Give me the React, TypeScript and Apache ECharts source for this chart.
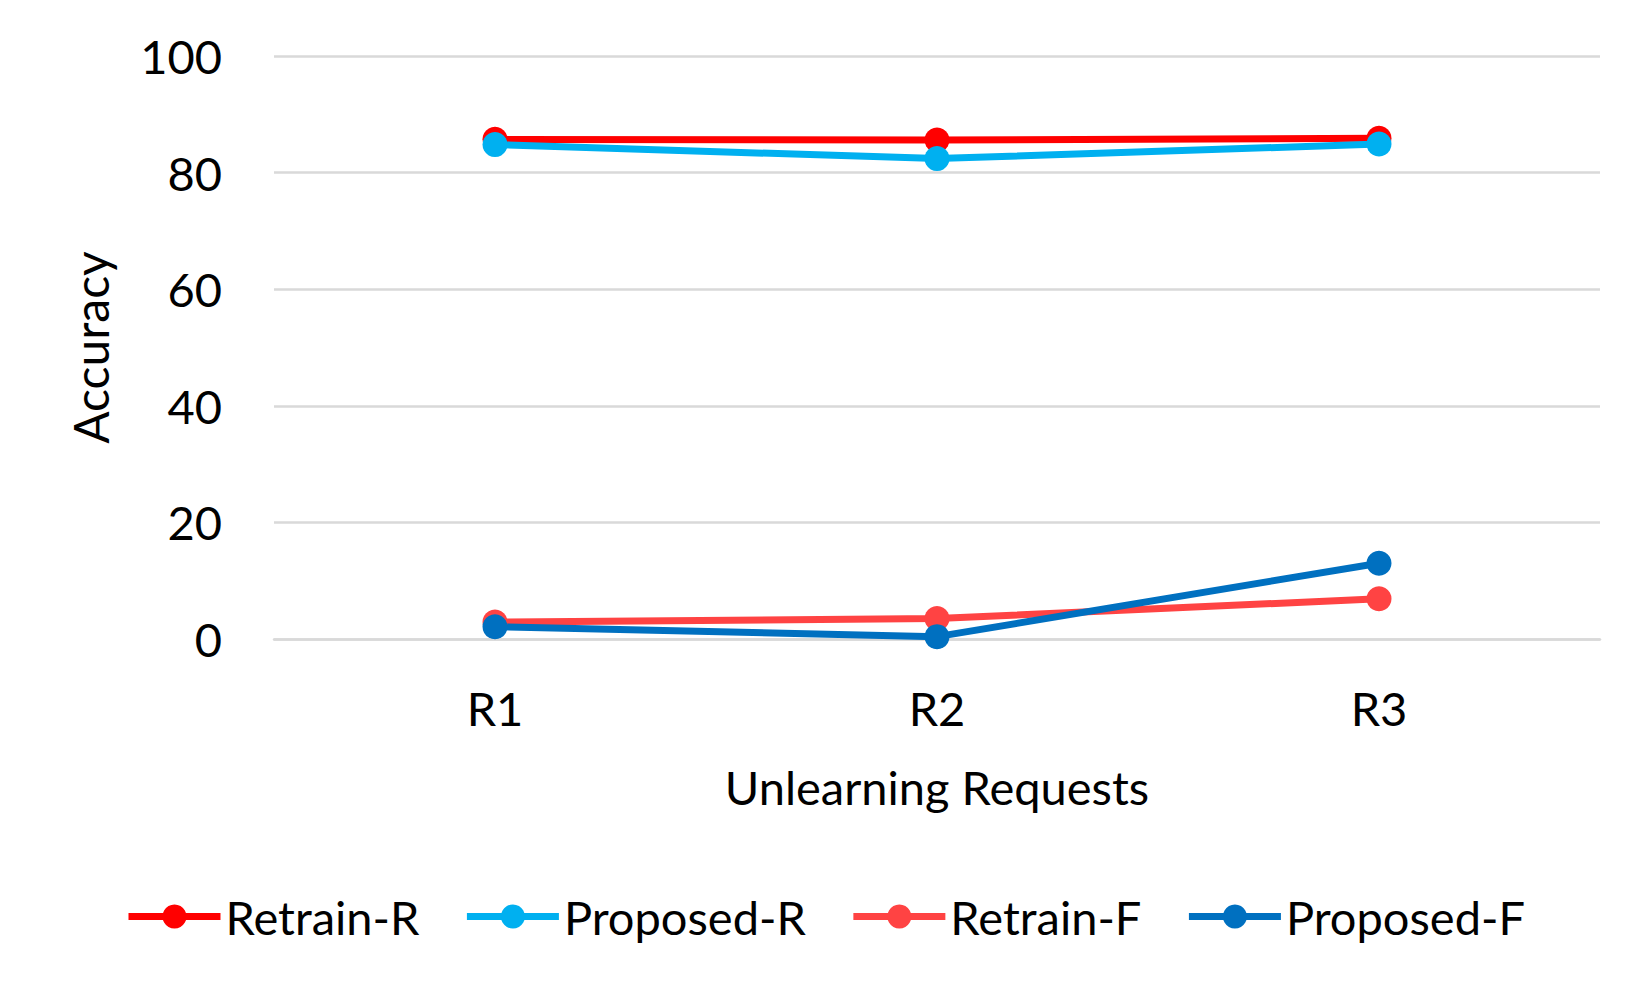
import React, { useEffect, useRef } from "react";
import * as echarts from "echarts";

const categories = ["R1", "R2", "R3"];
const retrainR = [85.7, 85.6, 85.9];
const proposedR = [84.8, 82.4, 84.9];
const retrainF = [2.9, 3.5, 6.9];
const proposedF = [2.1, 0.4, 13.0];
const seriesNames = ["Retrain-R", "Proposed-R", "Retrain-F", "Proposed-F"];
const seriesColors = ["#FF0000", "#00B0F0", "#FF4343", "#0070C0"];

const FONT = "Lato";

export default function App() {
  const ref = useRef<HTMLDivElement>(null);
  useEffect(() => {
    document.body.style.margin = "0";
    const chart = echarts.init(ref.current!, null, { renderer: "svg" });
    const values = [retrainR, proposedR, retrainF, proposedF];
    chart.setOption({
      animation: false,
      backgroundColor: "#FFFFFF",
      textStyle: { fontFamily: FONT, color: "#000" },
      grid: { left: 274, right: 50, top: 56, bottom: 351, containLabel: false },
      legend: {
        data: seriesNames.map((name, i) => ({
          name,
          lineStyle: { width: 7, color: seriesColors[i] },
        })),
        left: "center",
        top: 888,
        itemWidth: 92,
        itemHeight: 30,
        itemGap: 44,
        textStyle: { fontFamily: FONT, fontSize: 47, color: "#000" },
      },
      xAxis: {
        type: "category",
        data: categories,
        boundaryGap: true,
        name: "Unlearning Requests",
        nameLocation: "middle",
        nameGap: 124,
        nameTextStyle: { fontFamily: FONT, fontSize: 47, color: "#000" },
        axisLine: { show: true, lineStyle: { color: "#D9D9D9", width: 2.5 } },
        axisTick: { show: false },
        axisLabel: { fontFamily: FONT, fontSize: 47, color: "#000", margin: 45 },
      },
      yAxis: {
        type: "value",
        min: 0,
        max: 100,
        interval: 20,
        name: "Accuracy",
        nameLocation: "middle",
        nameGap: 160,
        nameTextStyle: { fontFamily: FONT, fontSize: 48, color: "#000" },
        axisLine: { show: false },
        axisTick: { show: false },
        axisLabel: { fontFamily: FONT, fontSize: 47, color: "#000", margin: 52 },
        splitLine: { show: true, lineStyle: { color: "#D9D9D9", width: 2.5 } },
      },
      series: seriesNames.map((name, i) => ({
        name,
        type: "line",
        data: values[i],
        symbol: "circle",
        symbolSize: 25,
        showSymbol: true,
        color: seriesColors[i],
        lineStyle: { width: 7, color: seriesColors[i] },
        itemStyle: { color: seriesColors[i] },
      })),
    });
    return () => chart.dispose();
  }, []);
  return <div ref={ref} style={{ width: 1650, height: 990 }} />;
}
